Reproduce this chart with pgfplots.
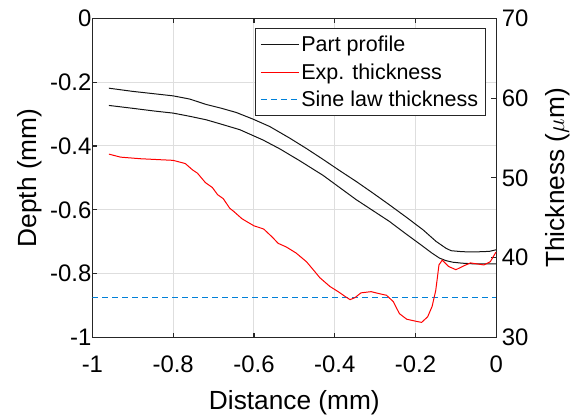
\documentclass[border=0pt]{standalone}
\usepackage{fontspec}
\setmainfont{Liberation Sans}
\usepackage{pgfplots}
\pgfplotsset{compat=1.18}
\definecolor{axgray}{rgb}{0.15,0.15,0.15}
\definecolor{gridgray}{rgb}{0.87,0.87,0.87}
\definecolor{sineblue}{HTML}{0080D8}

\pgfplotsset{
  common/.style={
    scale only axis, width=404.5bp, height=319.7bp,
    xmin=-1, xmax=0,
    tick align=inside,
    major tick length=5bp,
    axis line style={axgray, line width=1.1bp},
    every tick/.style={axgray, line width=1.1bp},
    /pgf/number format/assume math mode=true,
    tick label style={font=\fontsize{24}{28}\selectfont},
    label style={font=\fontsize{26.4}{30}\selectfont},
  }
}

\begin{document}
\begin{tikzpicture}
\begin{axis}[common, name=ax1,
  ymin=-1, ymax=0,
  xtick={-1,-0.8,-0.6,-0.4,-0.2,0},
  ytick={-1,-0.8,-0.6,-0.4,-0.2,0},
  xticklabels={-1,-0.8,-0.6,-0.4,-0.2,0},
  yticklabels={-1,-0.8,-0.6,-0.4,-0.2,0},
  xtick pos=both, ytick pos=left,
  grid=major,
  major grid style={gridgray, line width=1bp},
  xticklabel style={anchor=north, yshift=-15bp},
  yticklabel style={anchor=east, xshift=2.5bp},
  xlabel={Distance (mm)},
  ylabel={Depth (mm)},
  xlabel style={at={(0.5,0)}, anchor=base, yshift=-72bp},
  ylabel style={at={(0,0.5)}, anchor=base, yshift=55.8bp},
]
% upper surface of the part
\addplot[black!92, line width=1bp] coordinates {
(-0.959,-0.219) (-0.900,-0.229) (-0.850,-0.236) (-0.800,-0.243) (-0.759,-0.253)
(-0.718,-0.270) (-0.680,-0.282) (-0.644,-0.295) (-0.602,-0.316) (-0.561,-0.339)
(-0.512,-0.375) (-0.470,-0.408) (-0.429,-0.442) (-0.388,-0.477) (-0.347,-0.511)
(-0.306,-0.547) (-0.265,-0.584) (-0.224,-0.622) (-0.182,-0.662) (-0.149,-0.699)
(-0.125,-0.720) (-0.112,-0.728) (-0.085,-0.731) (-0.059,-0.732) (-0.035,-0.731)
(-0.017,-0.730) (0,-0.725)
};
% lower surface of the part
\addplot[black!92, line width=1bp] coordinates {
(-0.959,-0.273) (-0.900,-0.282) (-0.850,-0.290) (-0.800,-0.297) (-0.759,-0.307)
(-0.718,-0.318) (-0.680,-0.332) (-0.635,-0.349) (-0.578,-0.381) (-0.536,-0.409)
(-0.487,-0.446) (-0.429,-0.492) (-0.388,-0.530) (-0.347,-0.568) (-0.306,-0.602)
(-0.265,-0.636) (-0.224,-0.675) (-0.182,-0.714) (-0.160,-0.735) (-0.141,-0.751)
(-0.125,-0.759) (-0.108,-0.764) (-0.085,-0.767) (-0.059,-0.769) (-0.030,-0.769)
(0,-0.769)
};
\end{axis}

\begin{axis}[common, name=ax2,
  ymin=30, ymax=70,
  ytick={30,40,50,60,70},
  hide x axis,
  axis y line*=right,
  yticklabel style={anchor=west, xshift=2bp},
  ylabel={Thickness ($\mu$m)},
  ylabel style={at={(1,0.5)}, anchor=base, yshift=-68bp},
  legend cell align=left,
  legend style={at={(0.9745,0.9687)}, anchor=north east,
    draw=axgray, line width=0.8bp, fill=white,
    font=\fontsize{21.6}{24}\selectfont,
    inner sep=5.5bp, row sep=6.5bp},
  legend image code/.code={\draw[line width=1bp, #1] (0bp,0bp) -- (38bp,0bp);},
]
% sine-law thickness (drawn first)
\addplot[forget plot, draw=sineblue, line width=1.2bp, dash pattern=on 6bp off 4bp] coordinates {
(-1,35) (0,35)
};
% experimental thickness
\addplot[forget plot, draw=red, line width=1bp] coordinates {
(-0.959,52.98) (-0.930,52.60) (-0.880,52.40) (-0.800,52.20) (-0.770,51.80)
(-0.752,51.00) (-0.740,50.60) (-0.720,49.40) (-0.703,48.80) (-0.690,47.90)
(-0.676,47.40) (-0.660,46.20) (-0.650,45.80) (-0.630,44.90) (-0.617,44.50)
(-0.600,44.00) (-0.576,43.60) (-0.555,42.60) (-0.540,41.80) (-0.520,41.35)
(-0.496,40.60) (-0.470,39.50) (-0.450,38.30) (-0.437,37.50) (-0.412,36.40)
(-0.390,35.70) (-0.373,35.10) (-0.362,34.75) (-0.350,35.00) (-0.335,35.60)
(-0.310,35.75) (-0.290,35.50) (-0.272,35.30) (-0.255,34.50) (-0.240,33.00)
(-0.222,32.30) (-0.200,32.05) (-0.185,31.90) (-0.170,32.60) (-0.159,33.90)
(-0.150,35.90) (-0.142,39.10) (-0.134,39.70) (-0.118,38.90) (-0.100,38.50)
(-0.080,39.00) (-0.064,39.35) (-0.031,39.10) (-0.015,39.50) (-0.001,40.70)
};
\addlegendimage{draw=black!92, line width=1bp}
\addlegendentry{Part profile}
\addlegendimage{draw=red, line width=1bp}
\addlegendentry{Exp. thickness}
\addlegendimage{draw=sineblue, line width=1.2bp, dash pattern=on 6bp off 4bp}
\addlegendentry{Sine law thickness}
\end{axis}
\path[use as bounding box] ([xshift=-92.5bp,yshift=-75bp]ax1.south west) rectangle ([xshift=76bp,yshift=18.3bp]ax1.north east);
\end{tikzpicture}
\end{document}
